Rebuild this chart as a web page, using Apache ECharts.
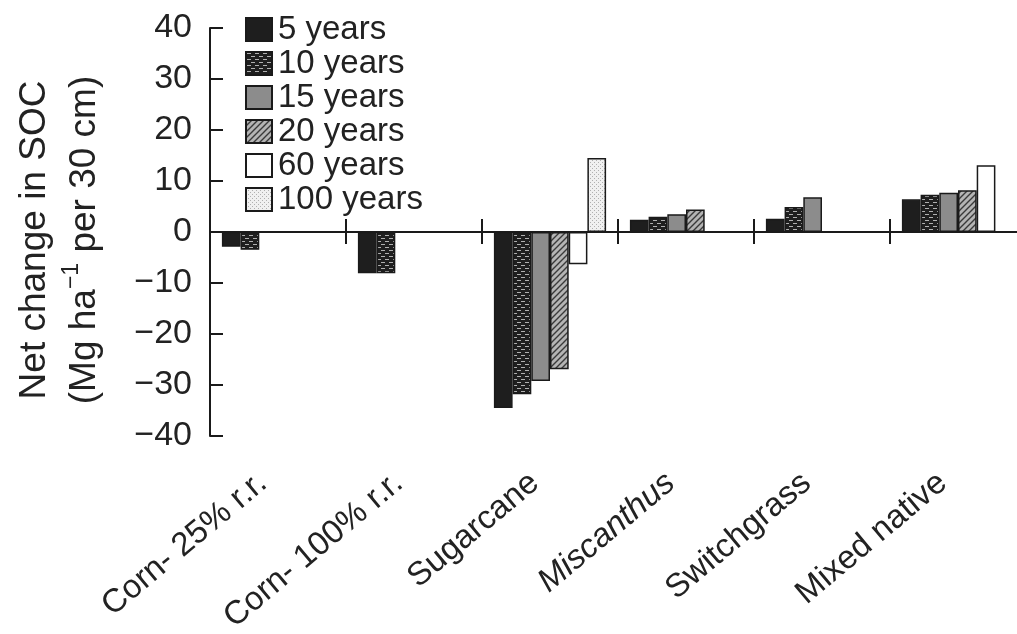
<!DOCTYPE html>
<html>
<head>
<meta charset="utf-8">
<title>Net change in SOC</title>
<script src="https://cdn.jsdelivr.net/npm/echarts@6/dist/echarts.min.js"></script>
<style>
  html, body { margin: 0; padding: 0; background: #fff; }
  #chart { width: 1017px; height: 634px; }
</style>
</head>
<body>
<div id="chart"></div>
<script>
// Crop / land-use scenarios along the category axis
const categories = ['Corn- 25% r.r.', 'Corn- 100% r.r.', 'Sugarcane', 'Miscanthus', 'Switchgrass', 'Mixed native'];

// Net change in soil organic carbon, Mg ha^-1 per 30 cm (null = not reported)
const years5   = [-2.9, -8.1, -34.5, 2.4, 2.6, 6.4];
const years10  = [-3.5, -8.1, -31.8, 3.0, 4.9, 7.3];
const years15  = [null, null, -29.2, 3.5, 6.8, 7.7];
const years20  = [null, null, -26.9, 4.4, null, 8.2];
const years60  = [null, null, -6.3, null, null, 13.1];
const years100 = [null, null, 14.5, null, null, null];

const seriesNames = ['5 years', '10 years', '15 years', '20 years', '60 years', '100 years'];
const yTicks = [-40, -30, -20, -10, 0, 10, 20, 30, 40];

const FONT = '"Liberation Sans", Arial, Helvetica, sans-serif';
const INK = '#222222';

// Small tiles used as repeating fills for the hatched bars
function tile(w, h, draw) {
  const c = document.createElement('canvas');
  c.width = w; c.height = h;
  draw(c.getContext('2d'));
  return { image: c, repeat: 'repeat' };
}

const fill10 = tile(8, 6, g => {
  g.fillStyle = '#1f1f1f'; g.fillRect(0, 0, 8, 6);
  g.fillStyle = '#b0b0b0';
  g.fillRect(1, 1, 4, 1);
  g.fillRect(5, 4, 3, 1); g.fillRect(0, 4, 1, 1);
});

const fill20 = tile(6, 6, g => {
  g.fillStyle = '#b4b4b4'; g.fillRect(0, 0, 6, 6);
  g.strokeStyle = '#3a3a3a'; g.lineWidth = 1.4;
  g.beginPath();
  g.moveTo(-1, 7); g.lineTo(7, -1);
  g.moveTo(-4, 4); g.lineTo(4, -4);
  g.moveTo(2, 10); g.lineTo(10, 2);
  g.stroke();
});

const fill100 = tile(4, 4, g => {
  g.fillStyle = '#f0f0f0'; g.fillRect(0, 0, 4, 4);
  g.fillStyle = '#b0b0b0';
  g.fillRect(0, 0, 1, 1); g.fillRect(2, 2, 1, 1);
});

const fills = ['#1e1e1e', fill10, '#8c8c8c', fill20, '#ffffff', fill100];
const values = [years5, years10, years15, years20, years60, years100];

const series = seriesNames.map((name, i) => ({
  name: name,
  type: 'bar',
  xAxisIndex: 0,
  yAxisIndex: 0,
  data: values[i],
  barWidth: 18.7,
  barGap: '0%',
  itemStyle: { color: fills[i], borderColor: '#1a1a1a', borderWidth: 1.5 },
  emphasis: { disabled: true },
  z: 2
}));

const LEGEND_FONT = 33;

const chart = echarts.init(document.getElementById('chart'));

chart.setOption({
  animation: false,
  backgroundColor: '#ffffff',
  grid: { left: 210, top: 28, width: 816, height: 408, containLabel: false, outerBoundsMode: 'none' },
  legend: {
    data: seriesNames,
    orient: 'vertical',
    left: 245,
    top: 13,
    icon: 'rect',
    itemWidth: 26,
    itemHeight: 23,
    itemGap: 34 - LEGEND_FONT,
    padding: 0,
    selectedMode: false,
    textStyle: { fontFamily: FONT, fontSize: LEGEND_FONT, color: INK, padding: [0, 0, 0, 1] }
  },
  xAxis: [
    {
      // zero line with downward boundary ticks
      type: 'category',
      data: categories,
      position: 'bottom',
      axisLine: { show: true, onZero: true, onZeroAxisIndex: 0, lineStyle: { color: '#1a1a1a', width: 2 } },
      axisTick: { show: true, inside: false, length: 12, interval: 0, lineStyle: { color: '#1a1a1a', width: 2 } },
      axisLabel: { show: false },
      splitLine: { show: false },
      z: 5
    },
    {
      // upward halves of the boundary ticks
      type: 'category',
      data: categories,
      position: 'top',
      axisLine: { show: false, onZero: true, onZeroAxisIndex: 0 },
      axisTick: { show: true, inside: false, length: 13, interval: 0, lineStyle: { color: '#1a1a1a', width: 2 } },
      axisLabel: { show: false },
      splitLine: { show: false },
      z: 5
    },
    {
      // category names under the plot
      type: 'category',
      data: categories,
      position: 'bottom',
      axisLine: { show: false, onZero: false },
      axisTick: { show: false },
      axisLabel: {
        show: true,
        interval: 0,
        rotate: 40,
        margin: 30,
        padding: [0, 20, 0, 0],
        fontFamily: FONT,
        fontSize: 33,
        color: INK,
        formatter: v => v === 'Miscanthus' ? '{it|' + v + '}' : v,
        rich: { it: { fontFamily: FONT, fontSize: 33, fontStyle: 'italic', color: INK } }
      },
      splitLine: { show: false }
    }
  ],
  yAxis: {
    type: 'value',
    min: yTicks[0],
    max: yTicks[yTicks.length - 1],
    interval: 10,
    axisLine: { show: true, lineStyle: { color: '#1a1a1a', width: 2 } },
    axisTick: { show: true, inside: true, length: 13, lineStyle: { color: '#1a1a1a', width: 2 } },
    splitLine: { show: false },
    axisLabel: {
      margin: 18,
      fontFamily: FONT,
      fontSize: 34,
      color: INK,
      formatter: v => String(v).replace('-', '\u2212')
    }
  },
  graphic: [
    {
      type: 'text',
      x: 60,
      y: 240,
      rotation: Math.PI / 2,
      style: {
        text: '{a|Net change in SOC}\n{a|(Mg ha}{s|\u22121}{a| per 30 cm)}',
        align: 'center',
        verticalAlign: 'middle',
        fill: INK,
        rich: {
          a: { fontFamily: FONT, fontSize: 37, lineHeight: 50, fill: INK },
          s: { fontFamily: FONT, fontSize: 23, lineHeight: 50, verticalAlign: 'top', padding: [0, 0, 16, 0], fill: INK }
        }
      }
    }
  ],
  series: series
});
</script>
</body>
</html>
